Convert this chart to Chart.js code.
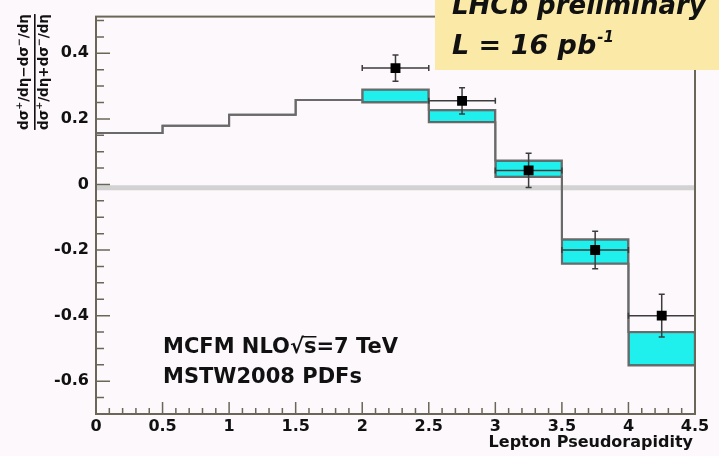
<!DOCTYPE html>
<html>
<head>
<meta charset="utf-8">
<title>W charge asymmetry</title>
<script src="https://cdn.jsdelivr.net/npm/chart.js@4.4.1/dist/chart.umd.min.js"></script>
<style>
  html, body { margin: 0; padding: 0; background: #fcf8fb; }
  #wrap { width: 719px; height: 456px; }
</style>
</head>
<body>
<div id="wrap"><canvas id="asym-chart" width="719" height="456"></canvas></div>
<script>
// MCFM NLO prediction per eta bin (upper / lower edge of the PDF band)
const binEdges = [0, 0.5, 1, 1.5, 2, 2.5, 3, 3.5, 4, 4.5];
const theoryUpper = [0.157, 0.179, 0.213, 0.258, 0.290, 0.227, 0.073, -0.167, -0.450];
const theoryLower = [0.157, 0.179, 0.213, 0.258, 0.250, 0.190, 0.023, -0.242, -0.552];

// LHCb measurement
const dataEta = [2.25, 2.75, 3.25, 3.75, 4.25];
const dataAsym = [0.355, 0.255, 0.043, -0.200, -0.400];
const dataErr = [0.040, 0.040, 0.052, 0.057, 0.065];
const dataHalfWidth = [0.25, 0.25, 0.25, 0.25, 0.25];

const xTickValues = [0, 0.5, 1, 1.5, 2, 2.5, 3, 3.5, 4, 4.5];
const yTickValues = [-0.6, -0.4, -0.2, 0, 0.2, 0.4];
const zeroLevel = -0.01;

const FONT = "'DejaVu Sans', sans-serif";
const FRAME = "#6b6758";

const binCentres = binEdges.slice(0, -1).map((e, i) => (e + binEdges[i + 1]) / 2);
const bandBins = binCentres.map((_, i) => i).filter((i) => theoryUpper[i] !== theoryLower[i]);

function stepPoints(values) {
  const pts = binEdges.slice(0, -1).map((x, i) => ({ x, y: values[i] }));
  pts.push({ x: binEdges[binEdges.length - 1], y: values[values.length - 1] });
  return pts;
}

function formatTick(v) {
  const r = Math.round(v * 10) / 10;
  return r === 0 ? "0" : String(r);
}

// error bars go in just before the markers are painted
const errorBars = {
  id: "errorBars",
  beforeDatasetDraw(chart, args) {
    if (args.meta.label !== "LHCb") return;
    const { ctx } = chart;
    const x = chart.scales.x;
    const y = chart.scales.y;
    ctx.save();
    ctx.strokeStyle = "#3c3c3c";
    ctx.lineWidth = 1.5;
    ctx.beginPath();
    dataEta.forEach((eta, i) => {
      const px = x.getPixelForValue(eta);
      const py = y.getPixelForValue(dataAsym[i]);
      const x0 = x.getPixelForValue(eta - dataHalfWidth[i]);
      const x1 = x.getPixelForValue(eta + dataHalfWidth[i]);
      const y0 = y.getPixelForValue(dataAsym[i] + dataErr[i]);
      const y1 = y.getPixelForValue(dataAsym[i] - dataErr[i]);
      ctx.moveTo(x0, py); ctx.lineTo(x1, py);
      ctx.moveTo(px, y0); ctx.lineTo(px, y1);
      ctx.moveTo(x0, py - 3); ctx.lineTo(x0, py + 3);
      ctx.moveTo(x1, py - 3); ctx.lineTo(x1, py + 3);
      ctx.moveTo(px - 3, y0); ctx.lineTo(px + 3, y0);
      ctx.moveTo(px - 3, y1); ctx.lineTo(px + 3, y1);
    });
    ctx.stroke();
    ctx.restore();
  },
};

// ROOT-style frame with inward tick marks
const frameTicks = {
  id: "frameTicks",
  afterDatasetsDraw(chart) {
    const { ctx, chartArea } = chart;
    const { left, right, top, bottom } = chartArea;
    const x = chart.scales.x;
    const y = chart.scales.y;
    ctx.save();
    ctx.strokeStyle = FRAME;
    ctx.lineWidth = 1.5;
    ctx.beginPath();
    for (let k = -14; k <= 10; k++) {
      const py = y.getPixelForValue(k * 0.05);
      if (py < top + 1 || py > bottom - 1) continue;
      const len = k % 4 === 0 ? 14 : 8;
      ctx.moveTo(left, py); ctx.lineTo(left + len, py);
    }
    for (let k = 1; k < 45; k++) {
      const px = x.getPixelForValue(k * 0.1);
      const len = k % 5 === 0 ? 12 : 6;
      ctx.moveTo(px, bottom); ctx.lineTo(px, bottom - len);
    }
    ctx.stroke();
    ctx.lineWidth = 2;
    ctx.strokeRect(left, top, right - left, bottom - top);
    ctx.restore();
  },
};

function drawRich(ctx, parts, size, x, baseline) {
  // measure first so the run can be centred on x
  let total = 0;
  parts.forEach((p) => {
    ctx.font = `bold ${p.sup ? size * 0.7 : size}px ${FONT}`;
    total += ctx.measureText(p.t).width;
  });
  let cx = x - total / 2;
  parts.forEach((p) => {
    ctx.font = `bold ${p.sup ? size * 0.7 : size}px ${FONT}`;
    ctx.fillText(p.t, cx, p.sup ? baseline - size * 0.45 : baseline);
    cx += ctx.measureText(p.t).width;
  });
  return total;
}

const annotations = {
  id: "annotations",
  afterDraw(chart) {
    const { ctx, chartArea } = chart;
    ctx.save();
    ctx.fillStyle = "#111";
    ctx.textAlign = "left";
    ctx.textBaseline = "alphabetic";

    // y axis title as a stacked fraction
    ctx.save();
    ctx.translate(35, 72);
    ctx.rotate(-Math.PI / 2);
    const num = [{ t: "dσ" }, { t: "+", sup: true }, { t: "/dη−dσ" }, { t: "−", sup: true }, { t: "/dη" }];
    const den = [{ t: "dσ" }, { t: "+", sup: true }, { t: "/dη+dσ" }, { t: "−", sup: true }, { t: "/dη" }];
    const w1 = drawRich(ctx, num, 13.5, 0, -7);
    const w2 = drawRich(ctx, den, 13.5, 0, 13);
    const w = Math.max(w1, w2);
    ctx.fillRect(-w / 2, -1, w, 1.6);
    ctx.restore();

    // x axis title
    ctx.font = `bold 16px ${FONT}`;
    ctx.textAlign = "right";
    ctx.fillText("Lepton Pseudorapidity", chartArea.right - 2, 447);

    // theory label
    ctx.textAlign = "left";
    ctx.font = `bold 21px ${FONT}`;
    let tx = 163;
    const line1 = 353;
    ctx.fillText("MCFM NLO", tx, line1);
    tx += ctx.measureText("MCFM NLO").width;
    ctx.fillText("√", tx, line1);
    const rootW = ctx.measureText("√").width;
    const sW = ctx.measureText("s").width;
    ctx.fillText("s", tx + rootW, line1);
    ctx.fillRect(tx + rootW - 2, line1 - 17, sW + 2, 1.5);
    tx += rootW + sW;
    ctx.fillText("=7 TeV", tx, line1);
    ctx.fillText("MSTW2008 PDFs", 163, 383);

    // preliminary box
    ctx.fillStyle = "#fbe9a7";
    ctx.fillRect(435, 0, 719 - 435, 70);
    ctx.fillStyle = "#111";
    ctx.font = `italic bold 26px ${FONT}`;
    ctx.fillText("LHCb preliminary", 452, 14);
    ctx.font = `italic bold 27px ${FONT}`;
    ctx.fillText("L = 16 pb", 452, 54);
    const lw = ctx.measureText("L = 16 pb").width;
    ctx.font = `italic bold 15px ${FONT}`;
    ctx.fillText("-1", 452 + lw + 1, 42);
    ctx.restore();
  },
};

const chart = new Chart(document.getElementById("asym-chart"), {
  type: "line",
  data: {
    datasets: [
      {
        label: "zero",
        data: [{ x: binEdges[0], y: zeroLevel }, { x: binEdges[binEdges.length - 1], y: zeroLevel }],
        borderColor: "rgba(200, 200, 200, 0.8)",
        borderWidth: 5,
        pointRadius: 0,
        order: 6,
      },
      {
        type: "bar",
        label: "MCFM band",
        data: bandBins.map((i) => ({ x: binCentres[i], y: [theoryLower[i], theoryUpper[i]] })),
        backgroundColor: "#1ff0ee",
        borderColor: "#3d5f5b",
        borderWidth: 1.5,
        borderSkipped: false,
        barPercentage: 1,
        categoryPercentage: 1,
        order: 5,
      },
      {
        label: "MCFM upper",
        data: stepPoints(theoryUpper),
        stepped: true,
        borderColor: "#6a6a6a",
        borderWidth: 2,
        pointRadius: 0,
        fill: false,
        order: 3,
      },
      {
        label: "MCFM lower",
        data: stepPoints(theoryLower),
        stepped: true,
        borderColor: "#6a6a6a",
        borderWidth: 2,
        pointRadius: 0,
        fill: false,
        order: 3,
      },
      {
        label: "LHCb",
        data: dataEta.map((x, i) => ({ x, y: dataAsym[i] })),
        showLine: false,
        pointStyle: "rect",
        pointRadius: 7,
        pointHoverRadius: 7,
        backgroundColor: "#000",
        borderColor: "#000",
        borderWidth: 0,
        order: 1,
      },
    ],
  },
  options: {
    responsive: false,
    animation: false,
    events: [],
    layout: { padding: { top: 10, right: 24, left: 0, bottom: 0 } },
    plugins: {
      legend: { display: false },
      tooltip: { enabled: false },
    },
    scales: {
      x: {
        type: "linear",
        min: 0,
        max: 4.5,
        offset: false,
        grid: { display: false, drawTicks: false, offset: false },
        border: { display: false },
        afterBuildTicks: (scale) => {
          scale.ticks = xTickValues.map((value) => ({ value }));
        },
        afterFit: (scale) => {
          scale.height = 42;
        },
        ticks: {
          autoSkip: false,
          maxRotation: 0,
          padding: 3,
          color: "#111",
          font: { family: FONT, size: 16, weight: "bold" },
          callback: (v) => formatTick(v),
        },
      },
      y: {
        type: "linear",
        min: -0.7,
        max: 0.512,
        grid: { display: false, drawTicks: false },
        border: { display: false },
        afterBuildTicks: (scale) => {
          scale.ticks = yTickValues.map((value) => ({ value }));
        },
        afterFit: (scale) => {
          scale.width = 96;
        },
        ticks: {
          padding: 7,
          color: "#111",
          font: { family: FONT, size: 16, weight: "bold" },
          callback: (v) => formatTick(v),
        },
      },
    },
  },
  plugins: [errorBars, frameTicks, annotations],
});
</script>
</body>
</html>
